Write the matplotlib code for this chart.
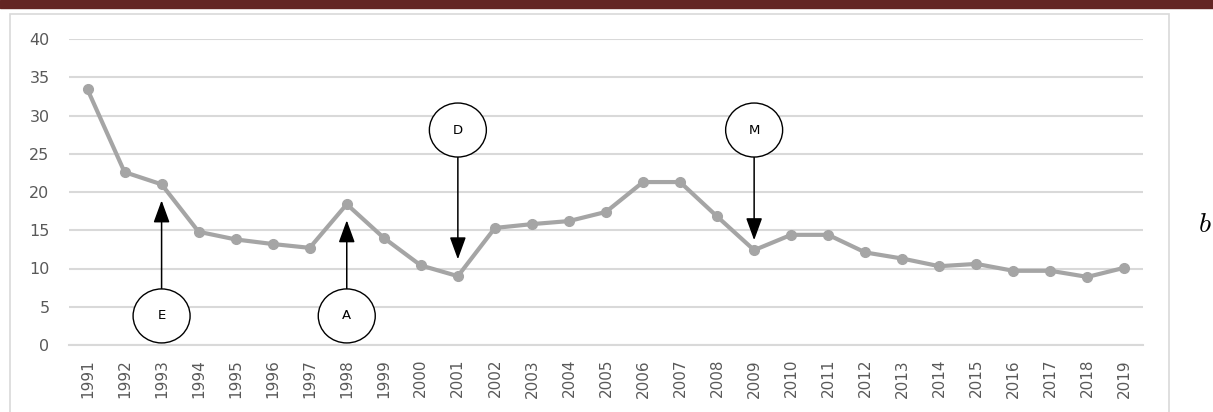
import matplotlib.pyplot as plt
from matplotlib.patches import Ellipse, Rectangle

years = list(range(1991, 2020))
values = [33.4, 22.6, 21.0, 14.8, 13.8, 13.2, 12.7, 18.4, 14.0, 10.4,
          9.0, 15.3, 15.8, 16.2, 17.4, 21.3, 21.3, 16.8, 12.4, 14.4,
          14.4, 12.1, 11.3, 10.3, 10.6, 9.7, 9.7, 8.9, 10.1]

# event markers: label, year, circle centre, arrow tip
event_labels = ["E", "A", "D", "M"]
event_years = [1993, 1998, 2001, 2009]
event_circle_y = [3.8, 3.8, 28.1, 28.1]
event_tip_y = [18.9, 16.3, 11.2, 13.7]

GRID = "#d9d9d9"
TEXT = "#595959"
LINE = "#a5a5a5"

fig = plt.figure(figsize=(12.13, 4.12), dpi=100)

# dark band across the top and light frame round the chart
fig.patches.append(Rectangle((0, 1 - 8 / 412), 1, 8 / 412, transform=fig.transFigure,
                             color="#632523", zorder=0))
fig.patches.append(Rectangle((10 / 1213, -0.02), (1169 - 10) / 1213, 1 - 14 / 412 + 0.02,
                             transform=fig.transFigure, fill=False,
                             edgecolor=GRID, linewidth=1.2, zorder=0))

ax = fig.add_axes([69 / 1213, 67 / 412, 1074 / 1213, 306 / 412])
x = list(range(len(years)))
ax.plot(x, values, color=LINE, linewidth=3.0, marker="o", markersize=7,
        solid_capstyle="round", zorder=3)

ax.set_xlim(-0.5, len(years) - 0.5)
ax.set_ylim(0, 40)
ax.set_yticks(range(0, 41, 5))
ax.set_xticks(x)
ax.set_xticklabels([str(y) for y in years], rotation=90, fontsize=11, color=TEXT)
ax.tick_params(axis="y", length=0, pad=14, labelsize=11.5, labelcolor=TEXT)
ax.tick_params(axis="x", length=0, pad=10)
ax.grid(axis="y", color=GRID, linewidth=1.5)
ax.set_axisbelow(True)
for side in ax.spines.values():
    side.set_visible(False)
ax.spines["bottom"].set_visible(True)
ax.spines["bottom"].set_color(GRID)
ax.spines["bottom"].set_linewidth(1.5)

# circle size in data units (about 57 x 54 px)
cw = 57 / (1074 / len(years))
ch = 54 / (306 / 40)
for lab, yr, cy, ty in zip(event_labels, event_years, event_circle_y, event_tip_y):
    xi = years.index(yr)
    ax.add_patch(Ellipse((xi, cy), cw, ch, facecolor="white", edgecolor="black",
                         linewidth=1.0, zorder=5, clip_on=False))
    ax.text(xi, cy, lab, ha="center", va="center", fontsize=9.5, zorder=6)
    start = cy + ch / 2 if ty > cy else cy - ch / 2
    ax.annotate("", xy=(xi, ty), xytext=(xi, start),
                arrowprops=dict(arrowstyle="-|>,head_length=1.37,head_width=0.5",
                                mutation_scale=10, color="black", linewidth=1.1,
                                shrinkA=0, shrinkB=0),
                zorder=4)

fig.text(1198 / 1213, 1 - 224 / 412, r"$b$", fontsize=20, ha="left", va="center",
         math_fontfamily="cm")

fig.savefig("out.png", dpi=100)
